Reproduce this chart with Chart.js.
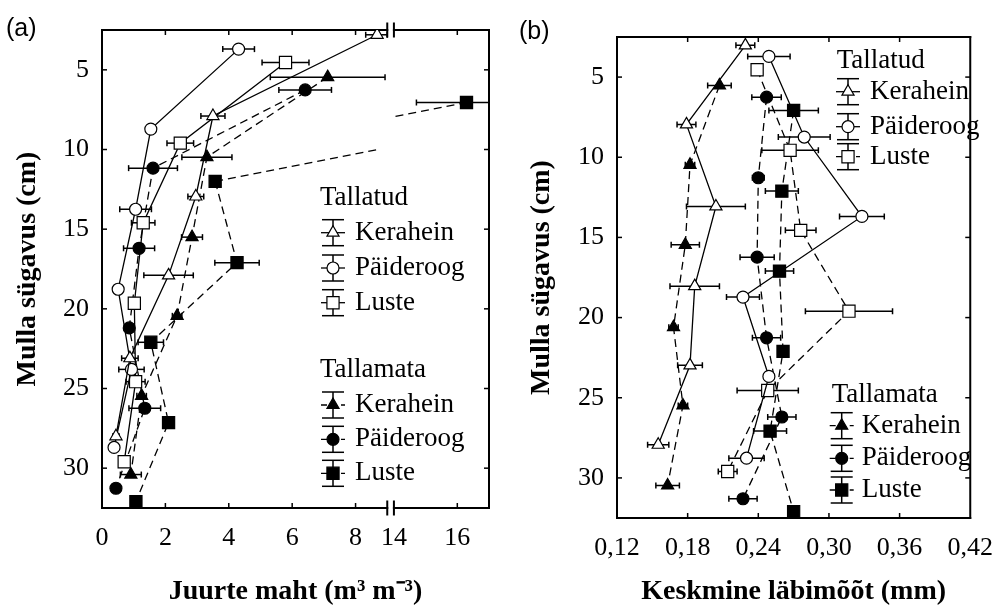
<!DOCTYPE html>
<html><head><meta charset="utf-8">
<script src="https://cdn.jsdelivr.net/npm/chart.js@4.4.1/dist/chart.umd.min.js"></script>
<style>
html,body{margin:0;padding:0;background:#fff;}
#wrap{position:relative;width:1008px;height:609px;overflow:hidden;background:#fff;}
canvas{position:absolute;top:0;}
#ca{left:0px}
#cb{left:504px}
.lab{position:absolute;font-family:"Liberation Sans",Arial,sans-serif;font-size:25px;line-height:1;color:#000;}
</style></head><body>
<div id="wrap">
<canvas id="ca" width="504" height="609"></canvas>
<canvas id="cb" width="504" height="609"></canvas>
<div class="lab" style="left:6px;top:15px">(a)</div>
<div class="lab" style="left:519px;top:18px">(b)</div>
</div>
<script>
// ---------------- Data ----------------
const depthTicks = [5, 10, 15, 20, 25, 30];
const volTicks = [0, 2, 4, 6, 8, 14, 16];
const diamTicks = [0.12, 0.18, 0.24, 0.30, 0.36, 0.42];
const groupNames = ['Tallatud', 'Tallamata'];
const speciesNames = ['Kerahein', 'Päideroog', 'Luste'];

// Panel (a): root volume (m3 m-3) vs depth (cm)
const aTallatudKeraheinDepth = [2.8, 7.9, 12.95, 17.9, 23.1, 28.0];
const aTallatudKeraheinVol   = [8.68, 3.5, 2.96, 2.1, 0.88, 0.44];
const aTallatudKeraheinErr   = [0.36, 0.38, 0.25, 0.78, 0.26, 0.1];
const aTallatudPaiderDepth   = [3.7, 8.72, 13.75, 18.77, 23.8, 28.7];
const aTallatudPaiderVol     = [4.31, 1.54, 1.06, 0.51, 0.93, 0.38];
const aTallatudPaiderErr     = [0.5, 0.1, 0.5, 0.1, 0.4, 0.1];
const aTallatudLusteDepth    = [4.54, 9.6, 14.6, 19.65, 24.57, 29.6];
const aTallatudLusteVol      = [5.79, 2.47, 1.30, 1.02, 1.06, 0.70];
const aTallatudLusteErr      = [0.74, 0.42, 0.37, 0.15, 0.3, 0.15];
const aTallamataKeraheinDepth = [5.46, 10.48, 15.5, 20.44, 25.46, 30.4];
const aTallamataKeraheinVol   = [7.12, 3.31, 2.84, 2.37, 1.25, 0.91];
const aTallamataKeraheinErr   = [1.81, 0.79, 0.33, 0.15, 0.15, 0.33];
const aTallamataPaiderDepth   = [6.26, 11.17, 16.2, 21.2, 26.24, 31.26];
const aTallamataPaiderVol     = [6.41, 1.61, 1.17, 0.86, 1.35, 0.44];
const aTallamataPaiderErr     = [0.83, 0.77, 0.49, 0.15, 0.5, 0.1];
const aTallamataLusteDepth    = [7.05, 12.0, 17.1, 22.1, 27.14, 32.1];
const aTallamataLusteVol      = [16.29, 3.57, 4.26, 1.54, 2.1, 1.07];
const aTallamataLusteErr      = [1.58, 0.1, 0.7, 0.4, 0.1, 0.1];

// Panel (b): mean root diameter (mm) vs depth (cm)
const bTallatudKeraheinDepth = [3.02, 7.95, 13.07, 18.04, 22.98, 27.93];
const bTallatudKeraheinDiam  = [0.229, 0.179, 0.204, 0.186, 0.182, 0.155];
const bTallatudKeraheinErr   = [0.008, 0.008, 0.025, 0.021, 0.0105, 0.009];
const bTallatudPaiderDepth   = [3.71, 8.74, 13.69, 18.72, 23.67, 28.77];
const bTallatudPaiderDiam    = [0.249, 0.279, 0.328, 0.227, 0.249, 0.230];
const bTallatudPaiderErr     = [0.018, 0.022, 0.019, 0.014, 0.004, 0.015];
const bTallatudLusteDepth    = [4.54, 9.57, 14.56, 19.6, 24.55, 29.6];
const bTallatudLusteDiam     = [0.239, 0.267, 0.276, 0.317, 0.248, 0.214];
const bTallatudLusteErr      = [0.002, 0.024, 0.013, 0.037, 0.026, 0.008];
const bTallamataKeraheinDepth = [5.52, 10.47, 15.46, 20.6, 25.48, 30.47];
const bTallamataKeraheinDiam  = [0.207, 0.182, 0.178, 0.168, 0.176, 0.163];
const bTallamataKeraheinErr   = [0.01, 0.004, 0.012, 0.004, 0.004, 0.01];
const bTallamataPaiderDepth   = [6.25, 11.28, 16.23, 21.26, 26.2, 31.3];
const bTallamataPaiderDiam    = [0.247, 0.240, 0.239, 0.247, 0.260, 0.227];
const bTallamataPaiderErr     = [0.0125, 0.005, 0.0145, 0.012, 0.012, 0.012];
const bTallamataLusteDepth    = [7.08, 12.11, 17.1, 22.11, 27.08, 32.1];
const bTallamataLusteDiam     = [0.270, 0.260, 0.258, 0.261, 0.250, 0.270];
const bTallamataLusteErr      = [0.021, 0.014, 0.012, 0.004, 0.014, 0.004];

// ---------------- Setup ----------------
const SERIF = '"Liberation Serif", "Times New Roman", Times, serif';
Chart.defaults.font.family = SERIF;
Chart.defaults.color = '#000';

// broken x axis: 0..9 then gap then 14..
const GAP = [9, 14];
const GAP_W = 0.21;
function toU(x) {
  if (x <= GAP[0]) return x;
  if (x >= GAP[1]) return x - GAP[1] + GAP[0] + GAP_W;
  return GAP[0] + (x - GAP[0]) * GAP_W / (GAP[1] - GAP[0]);
}
function fromU(u) {
  if (u <= GAP[0]) return u;
  if (u >= GAP[0] + GAP_W) return u - GAP[0] - GAP_W + GAP[1];
  return GAP[0] + (u - GAP[0]) * (GAP[1] - GAP[0]) / GAP_W;
}
class BrokenScale extends Chart.LinearScale {
  getPixelForValue(v) {
    if (v === null || v === undefined) return NaN;
    const a = toU(this.min), b = toU(this.max);
    return this.getPixelForDecimal((toU(v) - a) / (b - a));
  }
  getValueForPixel(p) {
    const a = toU(this.min), b = toU(this.max);
    return fromU(a + this.getDecimalForPixel(p) * (b - a));
  }
}
BrokenScale.id = 'broken';
BrokenScale.defaults = {};
Chart.register(BrokenScale);

const SHAPES = {
  Kerahein: {pointStyle: 'triangle', radius: 7},
  'Päideroog': {pointStyle: 'circle', radius: 6},
  Luste: {pointStyle: 'rect', radius: 8.6}
};

function crossesGap(gap, a, b) {
  return gap && ((a < gap[0] && b > gap[1]) || (b < gap[0] && a > gap[1]));
}

function makeDs(species, filled, dashed, xs, ys, errs, gap) {
  const s = SHAPES[species];
  return {
    label: species,
    data: xs.map((x, i) => ({x: x, y: ys[i]})),
    errX: errs,
    dashed: dashed,
    showLine: true,
    borderColor: '#000',
    borderWidth: 1.3,
    borderDash: dashed ? [8, 5] : [],
    segment: {
      // segments that cross the axis break are drawn in two pieces by the brokenLines plugin
      borderColor: c => crossesGap(gap, c.p0.parsed.x, c.p1.parsed.x) ? 'rgba(0,0,0,0)' : undefined
    },
    pointStyle: s.pointStyle,
    pointRadius: s.radius,
    pointHoverRadius: s.radius,
    pointBackgroundColor: filled ? '#000' : '#fff',
    pointBorderColor: '#000',
    pointBorderWidth: 1.2,
    fill: false,
    tension: 0
  };
}

function line(ctx, x1, y1, x2, y2) { ctx.beginPath(); ctx.moveTo(x1, y1); ctx.lineTo(x2, y2); ctx.stroke(); }

const errorBars = {
  id: 'errorBars',
  beforeDatasetsDraw(chart, args, opts) {
    const {ctx, chartArea: ca} = chart;
    const xs = chart.scales.x, ys = chart.scales.y;
    ctx.save();
    ctx.beginPath(); ctx.rect(ca.left, ca.top, ca.right - ca.left, ca.bottom - ca.top); ctx.clip();
    ctx.strokeStyle = '#000'; ctx.lineWidth = 1.5; ctx.setLineDash([]);
    chart.data.datasets.forEach(d => {
      d.data.forEach((p, i) => {
        const e = d.errX[i]; if (!e) return;
        const y = ys.getPixelForValue(p.y);
        let lo = p.x - e, hi = p.x + e;
        if (opts.gap) { if (p.x <= opts.gap[0]) hi = Math.min(hi, opts.gap[0]); else lo = Math.max(lo, opts.gap[1]); }
        const x1 = xs.getPixelForValue(lo), x2 = xs.getPixelForValue(hi);
        line(ctx, x1, y, x2, y);
        line(ctx, x1, y - 3, x1, y + 3);
        line(ctx, x2, y - 3, x2, y + 3);
      });
    });
    // connecting lines that cross the axis break: straight in data space, interrupted at the break
    if (opts.gap) {
      const g0 = opts.gap[0], g1 = opts.gap[1];
      chart.data.datasets.forEach(d => {
        for (let i = 0; i < d.data.length - 1; i++) {
          let p = d.data[i], q = d.data[i + 1];
          if (!crossesGap(opts.gap, p.x, q.x)) continue;
          if (p.x > q.x) { const t = p; p = q; q = t; }
          const yAt = x => p.y + (q.y - p.y) * (x - p.x) / (q.x - p.x);
          const cut0 = g0 - 0.2, cut1 = g1 + 0.05;
          ctx.lineWidth = 1.3;
          ctx.setLineDash(d.dashed ? [8, 5] : []);
          line(ctx, xs.getPixelForValue(p.x), ys.getPixelForValue(p.y), xs.getPixelForValue(cut0), ys.getPixelForValue(yAt(cut0)));
          line(ctx, xs.getPixelForValue(cut1), ys.getPixelForValue(yAt(cut1)), xs.getPixelForValue(q.x), ys.getPixelForValue(q.y));
          ctx.setLineDash([]);
        }
      });
    }
    ctx.restore();
  }
};

const frame = {
  id: 'frame',
  beforeDatasetsDraw(chart, args, opts) {
    const {ctx, chartArea: ca} = chart;
    const xs = chart.scales.x, ys = chart.scales.y;
    ctx.save();
    ctx.strokeStyle = '#000'; ctx.setLineDash([]); ctx.lineCap = 'square';
    ctx.lineWidth = 2;
    line(ctx, ca.left, ca.top, ca.left, ca.bottom);
    line(ctx, ca.right, ca.top, ca.right, ca.bottom);
    if (opts.gap) {
      const g1 = xs.getPixelForValue(opts.gap[0]), g2 = xs.getPixelForValue(opts.gap[1]);
      [ca.top, ca.bottom].forEach(yy => {
        line(ctx, ca.left, yy, g1, yy);
        line(ctx, g2, yy, ca.right, yy);
        line(ctx, g1, yy - 6.5, g1, yy + 6.5);
        line(ctx, g2, yy - 6.5, g2, yy + 6.5);
      });
    } else {
      line(ctx, ca.left, ca.top, ca.right, ca.top);
      line(ctx, ca.left, ca.bottom, ca.right, ca.bottom);
    }
    ctx.lineWidth = 1.5; ctx.lineCap = 'butt';
    xs.ticks.forEach(t => {
      const x = xs.getPixelForValue(t.value);
      if (x <= ca.left + 1 || x >= ca.right - 1) return;
      if (opts.gap && t.value === opts.gap[1]) return;
      line(ctx, x, ca.bottom, x, ca.bottom - 5);
      line(ctx, x, ca.top, x, ca.top + 5);
    });
    ys.ticks.forEach(t => {
      const y = ys.getPixelForValue(t.value);
      line(ctx, ca.left, y, ca.left + 5, y);
      line(ctx, ca.right, y, ca.right - 5, y);
    });
    ctx.restore();
  }
};

const customLegend = {
  id: 'customLegend',
  afterDatasetsDraw(chart, args, opts) {
    const ctx = chart.ctx;
    ctx.save();
    ctx.fillStyle = '#000'; ctx.strokeStyle = '#000';
    ctx.textBaseline = 'middle'; ctx.textAlign = 'left';
    ctx.font = '27px ' + SERIF;
    (opts.groups || []).forEach(g => {
      ctx.fillStyle = '#000';
      ctx.fillText(g.title, g.x, g.y);
      g.items.forEach(it => {
        const cx = g.symX, cy = it.y;
        ctx.lineWidth = 1.5; ctx.setLineDash([]);
        line(ctx, cx, cy - 13, cx, cy + 13);
        line(ctx, cx - 11, cy - 13, cx + 11, cy - 13);
        line(ctx, cx - 11, cy + 13, cx + 11, cy + 13);
        ctx.lineWidth = 1.3;
        if (it.dashed) ctx.setLineDash([6, 4]);
        line(ctx, cx - 12, cy, cx + 12, cy);
        ctx.setLineDash([]);
        const s = SHAPES[it.label];
        ctx.fillStyle = it.filled ? '#000' : '#fff';
        ctx.lineWidth = 1.2;
        Chart.helpers.drawPoint(ctx, {pointStyle: s.pointStyle, radius: s.radius, borderWidth: 1.2, rotation: 0}, cx, cy);
        ctx.fillStyle = '#000';
        ctx.font = '27px ' + SERIF;
        ctx.fillText(it.label, g.textX, cy);
      });
    });
    ctx.restore();
  }
};

function legendGroups(pos, dashedMap) {
  return pos.map((p, gi) => ({
    title: groupNames[gi], x: p.x, y: p.y, symX: p.symX, textX: p.textX,
    items: speciesNames.map((sp, si) => ({label: sp, y: p.rows[si], filled: gi === 1, dashed: dashedMap[gi][si]}))
  }));
}

function depthAxis(widthPx, titlePad) {
  return {
    type: 'linear', reverse: true, min: 2.5, max: 32.5,
    afterBuildTicks: s => { s.ticks = depthTicks.map(v => ({value: v})); },
    grid: {display: false, drawTicks: false},
    border: {display: false},
    ticks: {font: {size: 26}, color: '#000', padding: 13, autoSkip: false, callback: v => String(v)},
    title: {display: true, text: 'Mulla sügavus (cm)', color: '#000',
            font: {size: 28, weight: 'bold', lineHeight: 1.2}, padding: {top: titlePad, bottom: 0}},
    afterFit: s => { s.width = widthPx; }
  };
}

// ---------------- Chart (a) ----------------
new Chart(document.getElementById('ca'), {
  type: 'scatter',
  data: {
    datasets: [
      makeDs('Kerahein', false, false, aTallatudKeraheinVol, aTallatudKeraheinDepth, aTallatudKeraheinErr, GAP),
      makeDs('Päideroog', false, false, aTallatudPaiderVol, aTallatudPaiderDepth, aTallatudPaiderErr, GAP),
      makeDs('Luste', false, false, aTallatudLusteVol, aTallatudLusteDepth, aTallatudLusteErr, GAP),
      makeDs('Kerahein', true, true, aTallamataKeraheinVol, aTallamataKeraheinDepth, aTallamataKeraheinErr, GAP),
      makeDs('Päideroog', true, true, aTallamataPaiderVol, aTallamataPaiderDepth, aTallamataPaiderErr, GAP),
      makeDs('Luste', true, true, aTallamataLusteVol, aTallamataLusteDepth, aTallamataLusteErr, GAP)
    ]
  },
  options: {
    responsive: false, animation: false, devicePixelRatio: 1,
    layout: {padding: {top: 30, right: 15, left: 0, bottom: 0}},
    plugins: {
      legend: {display: false}, tooltip: {enabled: false},
      errorBars: {gap: GAP}, frame: {gap: GAP},
      customLegend: {groups: legendGroups([
        {x: 320, y: 198, symX: 333, textX: 355, rows: [232.7, 268, 302.7]},
        {x: 320, y: 370, symX: 333, textX: 355, rows: [405, 439.3, 473.3]}
      ], [[false, false, false], [true, true, true]])}
    },
    scales: {
      x: {
        type: 'broken', min: 0, max: 17,
        afterBuildTicks: s => { s.ticks = volTicks.map(v => ({value: v})); },
        grid: {display: false, drawTicks: false},
        border: {display: false},
        ticks: {font: {size: 26}, color: '#000', padding: 15, autoSkip: false, maxRotation: 0, callback: v => String(v)},
        title: {display: true, text: 'Juurte maht (m³ m⁻³)', color: '#000',
                font: {size: 28, weight: 'bold', lineHeight: 1}, padding: {top: 0, bottom: 3}},
        afterFit: s => { s.height = 101; }
      },
      y: depthAxis(102, 11)
    }
  },
  plugins: [frame, errorBars, customLegend]
});

// ---------------- Chart (b) ----------------
new Chart(document.getElementById('cb'), {
  type: 'scatter',
  data: {
    datasets: [
      makeDs('Kerahein', false, false, bTallatudKeraheinDiam, bTallatudKeraheinDepth, bTallatudKeraheinErr, null),
      makeDs('Päideroog', false, false, bTallatudPaiderDiam, bTallatudPaiderDepth, bTallatudPaiderErr, null),
      makeDs('Luste', false, true, bTallatudLusteDiam, bTallatudLusteDepth, bTallatudLusteErr, null),
      makeDs('Kerahein', true, true, bTallamataKeraheinDiam, bTallamataKeraheinDepth, bTallamataKeraheinErr, null),
      makeDs('Päideroog', true, true, bTallamataPaiderDiam, bTallamataPaiderDepth, bTallamataPaiderErr, null),
      makeDs('Luste', true, true, bTallamataLusteDiam, bTallamataLusteDepth, bTallamataLusteErr, null)
    ]
  },
  options: {
    responsive: false, animation: false, devicePixelRatio: 1,
    layout: {padding: {top: 37, right: 26, left: 0, bottom: 0}},
    plugins: {
      legend: {display: false}, tooltip: {enabled: false},
      errorBars: {}, frame: {},
      customLegend: {groups: legendGroups([
        {x: 332.7, y: 61, symX: 344, textX: 366, rows: [91.7, 126.7, 156.7]},
        {x: 327.7, y: 395, symX: 337.7, textX: 357.7, rows: [425.7, 458.3, 490]}
      ], [[false, false, true], [true, true, true]])}
    },
    scales: {
      x: {
        type: 'linear', min: 0.12, max: 0.42,
        afterBuildTicks: s => { s.ticks = diamTicks.map(v => ({value: v})); },
        grid: {display: false, drawTicks: false},
        border: {display: false},
        ticks: {font: {size: 26}, color: '#000', padding: 15, autoSkip: false, maxRotation: 0,
                callback: v => Number(v).toFixed(2).replace('.', ',')},
        title: {display: true, text: 'Keskmine läbimõõt (mm)', color: '#000',
                font: {size: 28, weight: 'bold', lineHeight: 1}, padding: {top: 0, bottom: 3}},
        afterFit: s => { s.height = 91; }
      },
      y: depthAxis(113, 21)
    }
  },
  plugins: [frame, errorBars, customLegend]
});
</script>
</body></html>
